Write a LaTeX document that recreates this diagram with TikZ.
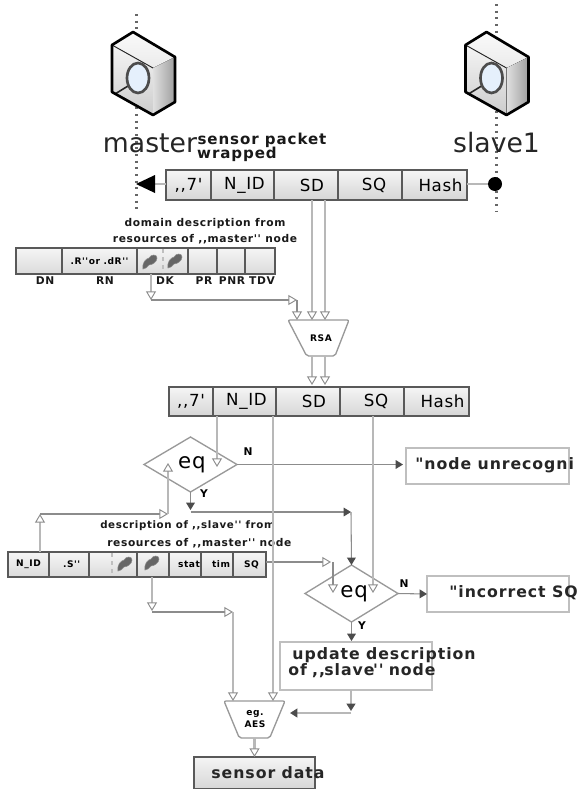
\documentclass[tikz,border=0pt]{standalone}
\usepackage{fontspec}
\setmainfont{DejaVu Sans}
\newfontfamily\labfont[LetterSpace=6]{DejaVu Sans Bold}
\newfontfamily\cellfont[LetterSpace=4]{DejaVu Sans}
\usetikzlibrary{shapes.geometric,arrows.meta}
\tikzset{
 x=0.75pt,y=-0.75pt,
 cellbox/.style={draw=black!65,line width=1.1pt,top color=black!4,bottom color=black!16,inner sep=0pt,outer sep=0pt,font=\cellfont\fontsize{12.5}{12.5}\selectfont},
 tablecell/.style={draw=black!65,line width=1pt,top color=black!4,bottom color=black!14,inner sep=0pt,outer sep=0pt,font=\labfont\fontsize{6.8}{7}\selectfont},
 msgbox/.style={draw=black!25,line width=1pt,fill=white,inner sep=0pt,outer sep=0pt},
 msgtext/.style={font=\labfont\fontsize{11.8}{11.8}\selectfont,inner sep=0pt,text=black!85},
 small/.style={font=\labfont\fontsize{8}{12}\selectfont,inner sep=0pt,text=black!90,align=center},
 mini/.style={font=\labfont\fontsize{8}{8}\selectfont,inner sep=0pt,text=black!90},
 yn/.style={font=\labfont\fontsize{8}{8}\selectfont,inner sep=0pt},
 decision/.style={diamond,draw=black!40,line width=1pt,fill=white,inner sep=0pt,outer sep=0pt,font=\cellfont\fontsize{16}{16}\selectfont},
 funnelbox/.style={rectangle,inner sep=0pt,outer sep=0pt,font=\labfont\fontsize{6.8}{9}\selectfont,align=center},
 funnelline/.style={draw=black!40,line width=1pt,rounded corners=1.5pt,fill=white},
 life/.style={line width=1.7pt,black!60,dash pattern=on 1.6pt off 3.4pt},
 thickline/.style={draw=black!28,line width=1.7pt},
 thinline/.style={draw=black!45,line width=.8pt},
 openhead/.style={-{Triangle[open,fill=white,length=6.5pt,width=7.5pt,line width=.7pt,color=black!45]}},
 darkhead/.style={-{Triangle[length=5.5pt,width=6.5pt,color=black!70]}},
 blob/.style={fill=black!60,draw=black!45,line width=.4pt},
 nodelabel/.style={font=\fontsize{20}{20}\selectfont,inner sep=0pt,text=black!85},
}
\newcommand{\cellat}[7][cellbox]{%
 \node[#1,minimum width=\dimexpr(#5pt - #3pt)*3/4\relax,minimum height=\dimexpr(#6pt - #4pt)*3/4\relax] (#2) at ({(#3+#5)/2},{(#4+#6)/2}) {#7};}
\newcommand{\keyblob}[2]{%
 \path[blob] (#1-7,#2+7) .. controls (#1-8,#2) and (#1-4,#2-3) .. (#1-1,#2-4)
   .. controls (#1+1,#2-8) and (#1+7,#2-8) .. (#1+7,#2-4)
   .. controls (#1+7,#2) and (#1+2,#2+3) .. (#1-1,#2+3)
   .. controls (#1-3,#2+5) and (#1-4,#2+7) .. (#1-7,#2+7) -- cycle;}
\definecolor{lensblue}{rgb}{0.90,0.94,0.99}
\newcommand{\devicon}{%
 \fill[top color=black!2,bottom color=black!8] (133,32)--(175,57)--(153,68)--(112,45)--cycle;
 \fill[top color=black!4,bottom color=black!20] (112,45)--(153,68)--(153,115)--(112,92)--cycle;
 \fill[left color=black!12,right color=black!38] (153,68)--(175,57)--(175,102)--(153,115)--cycle;
 \draw[black!85,line width=.7pt] (112,45)--(153,68);
 \draw[black!85,line width=1.2pt] (128,86)--(115,94);
 \draw[black!70,line width=2pt,fill=lensblue] (138,78) ellipse [x radius=11,y radius=15];
 \draw[black,line width=2pt,line join=round] (133,32)--(175,57)--(175,102)--(153,115)--(112,92)--(112,45)--cycle;
}
\begin{document}
\begin{tikzpicture}
\useasboundingbox (0,0) rectangle (579,789);
\fill[white] (0,0) rectangle (579,789);
% lifelines
\coordinate (mtop) at (136.5,14); \coordinate (mbot) at (136.5,212);
\coordinate (stop) at (496.5,4); \coordinate (sbot) at (496.5,212);
\draw[life] (mtop)--(mbot);
\draw[life] (stop)--(sbot);
% icons
\devicon
\begin{scope}[shift={(353.5,0)}]\devicon\end{scope}
\node[nodelabel] (master) at (150,143) {master};
\node[nodelabel] (slave) at (496.5,143) {slave1};
\node[small,font=\labfont\fontsize{11.3}{11.3}\selectfont] (title1) at (262,140) {sensor packet};
\node[small,font=\labfont\fontsize{11.3}{11.3}\selectfont] (title2) at (237,154) {wrapped};
% first packet
\cellat{a1}{166}{170}{211}{200}{,,7'}
\cellat{a2}{211}{170}{274}{200}{\hspace*{3pt}N\_ID}
\cellat{a3}{274}{170}{338}{200}{\hspace*{9pt}SD}
\cellat{a4}{338}{170}{402}{200}{\hspace*{6pt}SQ}
\cellat{a5}{402}{170}{467}{200}{\hspace*{9pt}Hash}
\coordinate (mend) at (136,184);
\coordinate (a1l) at (166,184); \coordinate (a1h) at (155,184); \coordinate (a5r) at (467,184);
\node[circle,fill=black,minimum size=10.5pt,inner sep=0pt] (sdot) at (495,184) {};
\draw[thickline] (a5r)--(sdot);
\draw[thickline] (a1l)--(a1h);
\fill[black] (mend)--(155,175)--(155,193)--cycle;
% domain table
\node[small] (domhead) at (205,231) {domain description from\\resources of ,,master'' node};
\cellat[tablecell]{d1}{16}{248}{62}{274}{}
\cellat[tablecell]{d2}{62}{248}{137}{274}{.R''or .dR''}
\cellat[tablecell]{d3}{137}{248}{188}{274}{}
\cellat[tablecell]{d4}{188}{248}{217}{274}{}
\cellat[tablecell]{d5}{217}{248}{245}{274}{}
\cellat[tablecell]{d6}{245}{248}{275}{274}{}
\draw[black!25,dashed,line width=.8pt] (163,249)--(163,273);
\keyblob{150}{262}\keyblob{175}{261}
\node[mini] (l1) at (45,281) {DN};
\node[mini] (l2) at (105,281) {RN};
\node[mini] (l3) at (165,281) {DK};
\node[mini] (l4) at (204,281) {PR};
\node[mini] (l5) at (232,281) {PNR};
\node[mini] (l6) at (262,281) {TDV};
% RSA
\node[funnelbox,minimum width=45.75pt,minimum height=27pt] (rsa) at (318.5,338) {};
\draw[funnelline] (rsa.north west)--(rsa.north east)--([xshift=-10.5pt]rsa.south east)--([xshift=14pt]rsa.south west)--cycle;
\node[funnelbox] (rsat) at (321,338) {RSA};
\coordinate (sd1) at (312,200); \coordinate (sd2) at (325,200);
\coordinate (rsa1) at (312,320); \coordinate (rsa2) at (325,320);
\draw[thickline,openhead] (sd1)--(rsa1);
\draw[thickline,openhead] (sd2)--(rsa2);
\coordinate (dk) at (151,274); \coordinate (dkb) at (151,300);
\coordinate (dkc) at (297,300); \coordinate (rsa3) at (297,320);
\draw[thickline,openhead] (dk)--(dkb);
\draw[thinline,openhead] (dkb)--(dkc);
\draw[thinline,openhead] (dkc)--(rsa3);
% second packet
\cellat{b1}{169}{387}{213}{416}{,,7'}
\cellat{b2}{213}{387}{276}{416}{\hspace*{3pt}N\_ID}
\cellat{b3}{276}{387}{340}{416}{\hspace*{9pt}SD}
\cellat{b4}{340}{387}{404}{416}{\hspace*{6pt}SQ}
\cellat{b5}{404}{387}{469}{416}{\hspace*{9pt}Hash}
\coordinate (rb1) at (312,356); \coordinate (rb2) at (325,356);
\coordinate (pk1) at (312,385); \coordinate (pk2) at (325,385);
\draw[thickline,openhead] (rb1)--(pk1);
\draw[thickline,openhead] (rb2)--(pk2);
% first eq
\node[decision,minimum width=69.75pt,minimum height=41.25pt] (eq1) at (190.5,464.5) {\hspace*{2pt}eq};
\node[yn] (n1) at (248,452) {N};
\node[yn] (y1) at (204,494) {Y};
\coordinate (nid) at (217,416); \coordinate (nidend) at (217,467);
\draw[thickline,openhead] (nid)--(nidend);
\draw[thinline,darkhead] (eq1.east)--(403,464.5);
\cellat[msgbox]{m1}{406}{448}{569}{484}{}
\node[msgtext,anchor=west] (m1t) at (415,465) {"node unrecogni};
\coordinate (yb) at (190.5,510); \coordinate (yc) at (190.5,512); \coordinate (yd) at (351,512);
\draw[thinline,darkhead] (eq1.south)--(yb);
\draw[thinline,darkhead] (yc)--(yd);
% slave table
\cellat[tablecell]{s1}{8}{552}{49}{577}{N\_ID}
\cellat[tablecell]{s2}{49}{552}{89}{577}{\hspace*{4pt}.S''}
\cellat[tablecell]{s3}{89}{552}{137}{577}{}
\cellat[tablecell]{s4}{137}{552}{169}{577}{}
\cellat[tablecell]{s5}{169}{552}{201}{577}{\hspace*{6pt}stat}
\cellat[tablecell]{s6}{201}{552}{233}{577}{\hspace*{6pt}tim}
\cellat[tablecell]{s7}{233}{552}{266}{577}{\hspace*{3pt}SQ}
\draw[black!25,dashed,line width=.8pt] (112,553)--(112,576);
\keyblob{125}{564}\keyblob{152}{563}
\node[small,font=\labfont\fontsize{7.7}{8}\selectfont,anchor=west] (sh1) at (100,526) {description of ,,slave'' from};
\node[small,anchor=west] (sh2) at (107,543) {resources of ,,master'' node};
\coordinate (sa) at (40,552); \coordinate (sb) at (40,514); \coordinate (sc) at (168,514); \coordinate (sd) at (168,463);
\draw[thickline,openhead] (sa)--(sb);
\draw[thinline,openhead] (sb)--(sc);
\draw[thickline,openhead] (sc)--(sd);
% second eq
\node[decision,minimum width=69.75pt,minimum height=42.75pt] (eq2) at (351.5,593.5) {\hspace*{4pt}eq};
\draw[thinline,darkhead] (yd)--(eq2.north);
\node[yn] (n2) at (404,584) {N};
\node[yn] (y2) at (362,626) {Y};
\cellat[msgbox]{m2}{427}{576}{569}{612}{}
\node[msgtext,anchor=west] (m2t) at (449,593) {"incorrect SQ};
\draw[thinline,darkhead] (eq2.east)--(m2.west);
\coordinate (s7r) at (266,562); \coordinate (q0) at (333,562); \coordinate (q1) at (331,562); \coordinate (q2) at (333,593);
\draw[thinline,openhead] (s7r)--(q1);
\draw[thinline,openhead] (q0)--(q2);
\coordinate (sq) at (373,416); \coordinate (sqend) at (373,593);
\draw[thickline,openhead] (sq)--(sqend);
% update
\cellat[msgbox]{u}{280}{642}{432}{690}{}
\node[msgtext] (ut1) at (384,655) {update description};
\node[msgtext] (ut2) at (362,671) {of\kern-1pt\ ,,\kern-.5pt slave\kern-1pt''\kern-1pt\ node};
\draw[thinline,darkhead] (eq2.south)--(351.5,641);
% AES
\node[funnelbox,minimum width=45.75pt,minimum height=27.75pt] (aes) at (254.5,719.5) {};
\draw[funnelline] (aes.north west)--(aes.north east)--([xshift=-11.5pt]aes.south east)--([xshift=11.5pt]aes.south west)--cycle;
\node[funnelbox] (aest) at (255,719) {eg.\\AES};
\coordinate (ub) at (351,690); \coordinate (uc) at (351,711); \coordinate (ud) at (351,713); \coordinate (ue) at (290,713);
\draw[thickline,darkhead] (ub)--(uc);
\draw[thickline,darkhead] (ud)--(ue);
\coordinate (k1) at (152,577); \coordinate (k2) at (152,611); \coordinate (k3) at (233,612); \coordinate (a1end) at (233,701);
\draw[thickline,openhead] (k1)--(k2);
\draw[thinline,openhead] (k2 |- k3)--(k3);
\draw[thickline,openhead] (k3)--(a1end);
\coordinate (sdtop) at (273,416); \coordinate (a2end) at (273,701);
\draw[thickline,openhead] (sdtop)--(a2end);
% sensor data
\cellat{out}{194}{757}{315}{789}{}
\node[msgtext] (outt) at (268,773) {sensor data};
\draw[thickline,openhead] (aes.south)--(out.north);
\end{tikzpicture}
\end{document}
